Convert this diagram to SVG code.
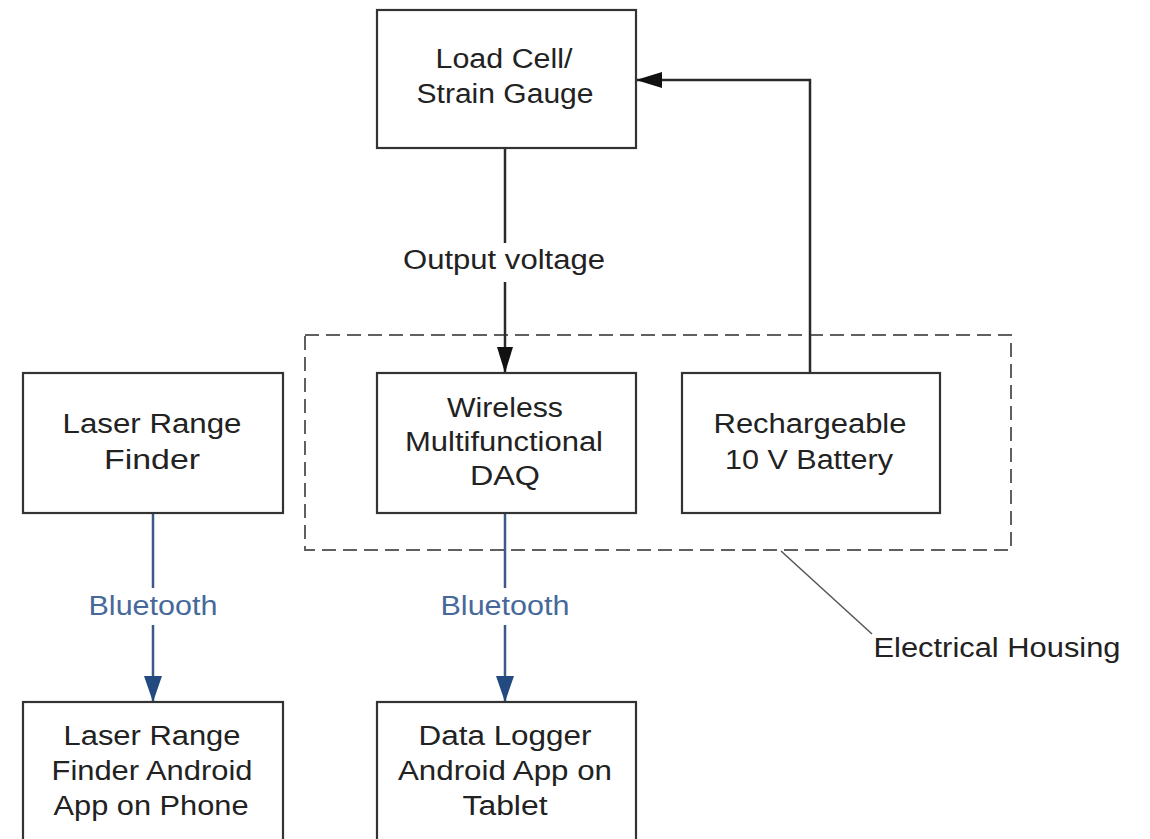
<svg xmlns="http://www.w3.org/2000/svg" width="1150" height="839" viewBox="0 0 1150 839">
  <defs>
    <style>
      .box { fill: #ffffff; stroke: #333333; stroke-width: 2.2; }
      .t { font-family: "Liberation Sans", Arial, sans-serif; font-size: 27px; fill: #222222; text-anchor: middle; }
      .bt { font-family: "Liberation Sans", Arial, sans-serif; font-size: 27px; fill: #46699a; text-anchor: middle; }
      .blk { stroke: #2a2a2a; stroke-width: 2.5; fill: none; }
      .blu { stroke: #3c5a86; stroke-width: 2.5; fill: none; }
      .dash { fill: none; stroke: #606060; stroke-width: 2; stroke-dasharray: 14 7; }
    </style>
    <marker id="ah" markerWidth="26" markerHeight="16" refX="25" refY="8" orient="auto" markerUnits="userSpaceOnUse">
      <path d="M0,0 L26,8 L0,16 Z" fill="#111111"/>
    </marker>
    <marker id="ahb" markerWidth="26" markerHeight="18" refX="25" refY="9" orient="auto" markerUnits="userSpaceOnUse">
      <path d="M0,0 L26,9 L0,18 Z" fill="#234a80"/>
    </marker>
  </defs>
  <rect width="1150" height="839" fill="#ffffff"/>

  <g id="housing">
    <rect class="dash" x="305" y="335" width="706" height="215"/>
  </g>

  <g id="connectors">
    <line class="blk" x1="505" y1="148" x2="505" y2="243"/>
    <line class="blk" x1="505" y1="282" x2="505" y2="372" marker-end="url(#ah)"/>
    <text class="t" x="504" y="269" textLength="202" lengthAdjust="spacingAndGlyphs">Output voltage</text>
    <polyline class="blk" points="810,373 810,80 637,80" marker-end="url(#ah)"/>
    <line class="blu" x1="153" y1="513" x2="153" y2="588"/>
    <line class="blu" x1="153" y1="625" x2="153" y2="701" marker-end="url(#ahb)"/>
    <text class="bt" x="153" y="615" textLength="129" lengthAdjust="spacingAndGlyphs">Bluetooth</text>
    <line class="blu" x1="505" y1="513" x2="505" y2="588"/>
    <line class="blu" x1="505" y1="625" x2="505" y2="701" marker-end="url(#ahb)"/>
    <text class="bt" x="505" y="615" textLength="129" lengthAdjust="spacingAndGlyphs">Bluetooth</text>
    <line x1="781" y1="551" x2="872" y2="634" stroke="#555555" stroke-width="1.5"/>
    <text class="t" x="997" y="657" textLength="247" lengthAdjust="spacingAndGlyphs">Electrical Housing</text>
  </g>

  <g id="load-cell">
    <rect class="box" x="377" y="10" width="259" height="138"/>
    <text class="t" x="504" y="68" textLength="137" lengthAdjust="spacingAndGlyphs">Load Cell/</text>
    <text class="t" x="505" y="103" textLength="177" lengthAdjust="spacingAndGlyphs">Strain Gauge</text>
  </g>

  <g id="laser-range-finder">
    <rect class="box" x="23" y="373" width="260" height="140"/>
    <text class="t" x="152" y="433" textLength="179" lengthAdjust="spacingAndGlyphs">Laser Range</text>
    <text class="t" x="152" y="469" textLength="96" lengthAdjust="spacingAndGlyphs">Finder</text>
  </g>

  <g id="daq">
    <rect class="box" x="377" y="373" width="259" height="140"/>
    <text class="t" x="505" y="417" textLength="116" lengthAdjust="spacingAndGlyphs">Wireless</text>
    <text class="t" x="504" y="451" textLength="198" lengthAdjust="spacingAndGlyphs">Multifunctional</text>
    <text class="t" x="505" y="485" textLength="70" lengthAdjust="spacingAndGlyphs">DAQ</text>
  </g>

  <g id="battery">
    <rect class="box" x="682" y="373" width="258" height="140"/>
    <text class="t" x="810" y="433" textLength="193" lengthAdjust="spacingAndGlyphs">Rechargeable</text>
    <text class="t" x="809" y="469" textLength="168" lengthAdjust="spacingAndGlyphs">10 V Battery</text>
  </g>

  <g id="phone-app">
    <rect class="box" x="23" y="702" width="260" height="150"/>
    <text class="t" x="152" y="745" textLength="177" lengthAdjust="spacingAndGlyphs">Laser Range</text>
    <text class="t" x="152" y="780" textLength="201" lengthAdjust="spacingAndGlyphs">Finder Android</text>
    <text class="t" x="151" y="815" textLength="195" lengthAdjust="spacingAndGlyphs">App on Phone</text>
  </g>

  <g id="tablet-app">
    <rect class="box" x="377" y="702" width="259" height="150"/>
    <text class="t" x="505" y="745" textLength="173" lengthAdjust="spacingAndGlyphs">Data Logger</text>
    <text class="t" x="505" y="780" textLength="214" lengthAdjust="spacingAndGlyphs">Android App on</text>
    <text class="t" x="505" y="815" textLength="85" lengthAdjust="spacingAndGlyphs">Tablet</text>
  </g>
</svg>
